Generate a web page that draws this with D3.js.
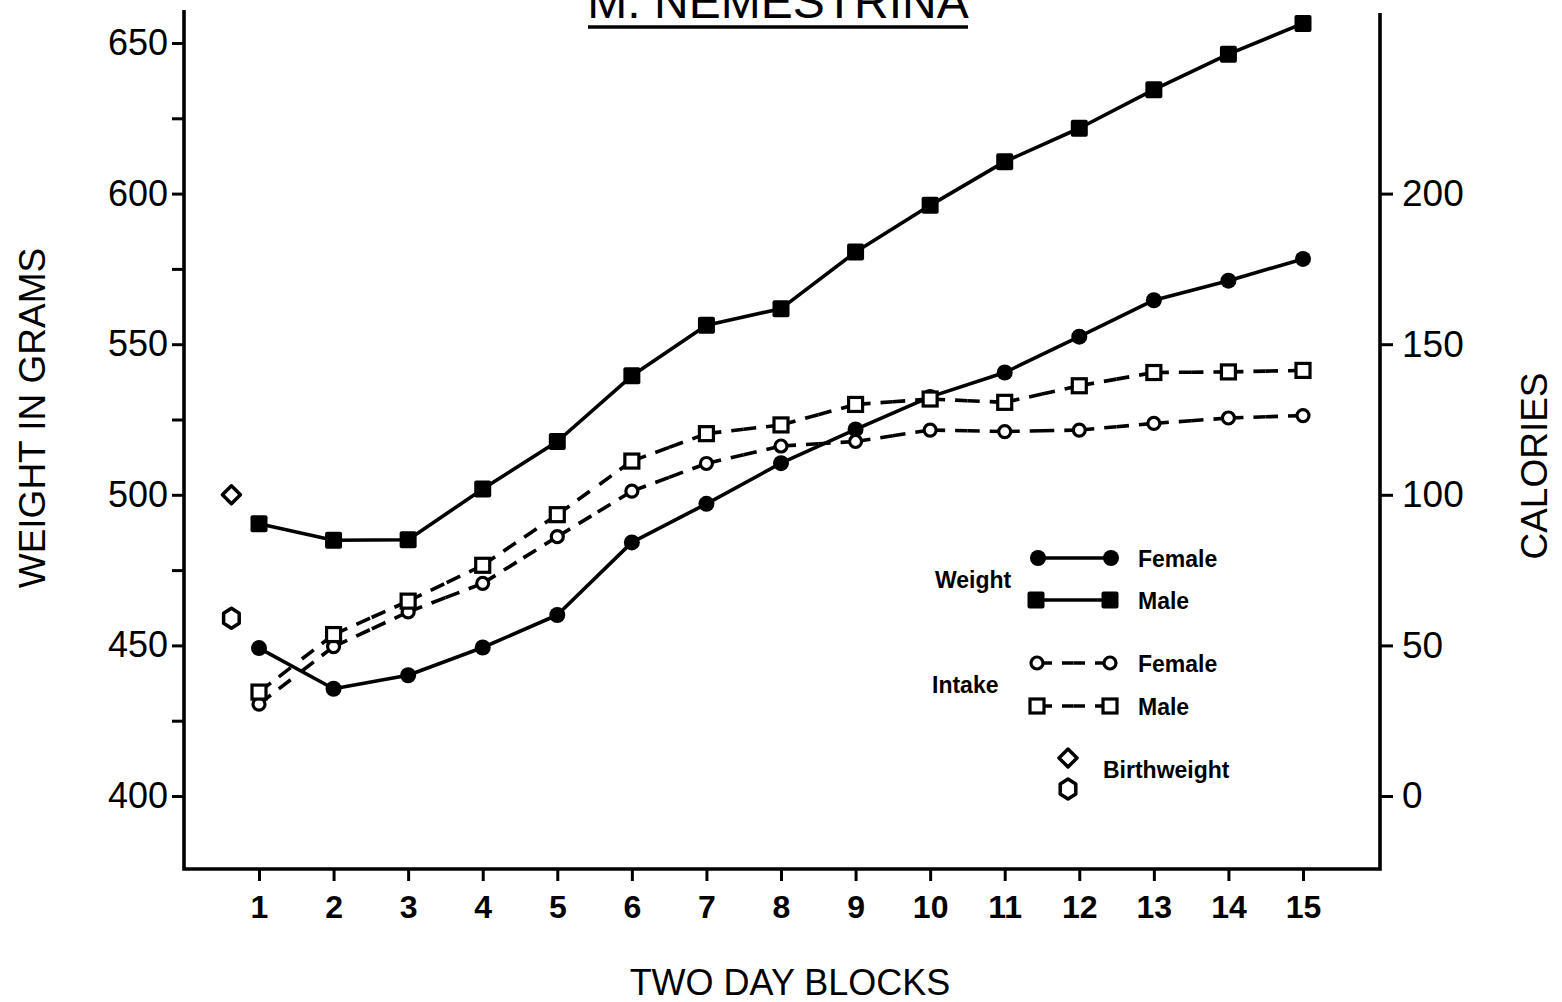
<!DOCTYPE html>
<html>
<head>
<meta charset="utf-8">
<script src="https://cdn.jsdelivr.net/npm/d3@7"></script>
<style>
  body { margin: 0; background: #fff; }
  svg { display: block; }
  text { font-family: "Liberation Sans", Arial, Helvetica, sans-serif; fill: #000; }
</style>
</head>
<body>
<svg id="chart" width="1562" height="1002"></svg>
<script>
// Two-day blocks on the x axis
const blocks = [1, 2, 3, 4, 5, 6, 7, 8, 9, 10, 11, 12, 13, 14, 15];

// Body weight (grams), left axis
const weightFemale = [449.1, 435.6, 440.1, 449.3, 460.1, 484.2, 497.0, 510.5, 521.7, 532.5, 540.6, 552.5, 564.6, 571.1, 578.3];
const weightMale   = [490.4, 484.9, 485.1, 501.9, 517.7, 539.5, 556.3, 561.8, 580.6, 596.1, 610.6, 621.7, 634.5, 646.3, 656.5];

// Caloric intake, right axis
const intakeFemale = [30.5, 49.6, 61.1, 70.6, 86.1, 101.2, 110.4, 116.2, 117.7, 121.5, 121.0, 121.5, 123.7, 125.5, 126.3];
const intakeMale   = [34.5, 53.6, 64.7, 76.6, 93.4, 111.2, 120.3, 123.2, 130.0, 131.8, 130.7, 136.2, 140.6, 140.8, 141.3];

// Birthweights, plotted just before block 1
const birthBlock = 0.63;
const birthweightMale = 500;
const birthweightFemale = 459;

// Tick labels
const weightTicks = [400, 450, 500, 550, 600, 650];
const weightMinorTicks = [425, 475, 525, 575, 625];
const calorieTicks = [0, 50, 100, 150, 200];

const svg = d3.select("#chart");
svg.append("rect").attr("width", 1562).attr("height", 1002).attr("fill", "#fff");

const frame = { left: 184, right: 1380, top: 10, bottom: 869 };

const x = d3.scaleLinear().domain([1, 15]).range([259, 1303]);
const yW = d3.scaleLinear().domain([400, 650]).range([796, 43]);
const yC = d3.scaleLinear().domain([0, 250]).range([796, 43]);

const ink = "#000";
const SW = 3.6;

// Frame lines
svg.append("path")
  .attr("d", `M${frame.left},${frame.top} L${frame.left},${frame.bottom} L${frame.right},${frame.bottom} L${frame.right},${frame.top + 3}`)
  .attr("fill", "none").attr("stroke", ink).attr("stroke-width", SW);

// Left axis (weight)
const gL = svg.append("g").attr("transform", `translate(${frame.left},0)`)
  .call(d3.axisLeft(yW).tickValues(weightTicks).tickSize(12).tickPadding(4).tickFormat(d3.format("d")));
gL.append("g").call(d3.axisLeft(yW).tickValues(weightMinorTicks).tickSize(12).tickFormat(""));
// Right axis (calories)
const gR = svg.append("g").attr("transform", `translate(${frame.right},0)`)
  .call(d3.axisRight(yC).tickValues(calorieTicks).tickSize(13).tickPadding(9).tickFormat(d3.format("d")));
// Bottom axis (blocks)
const gB = svg.append("g").attr("transform", `translate(0,${frame.bottom})`)
  .call(d3.axisBottom(x).tickValues(blocks).tickSize(12).tickPadding(14).tickFormat(d3.format("d")));

svg.selectAll(".domain").remove();
svg.selectAll(".tick line").attr("stroke", ink).attr("stroke-width", 3);
gL.selectAll("text").attr("font-size", 36).attr("fill", ink);
gR.selectAll("text").attr("font-size", 37).attr("fill", ink);
gB.selectAll("text").attr("font-size", 32).attr("font-weight", "bold").attr("fill", ink);
svg.selectAll(".tick text").style("font-family", '"Liberation Sans", Arial, sans-serif');

// Title with underline
svg.append("text").attr("x", 778).attr("y", 18).attr("text-anchor", "middle")
  .attr("font-size", 48).text("M. NEMESTRINA");
svg.append("line").attr("x1", 588).attr("x2", 968).attr("y1", 27).attr("y2", 27)
  .attr("stroke", ink).attr("stroke-width", 3.5);

// Axis titles
svg.append("text").attr("transform", "translate(45,418) rotate(-90)")
  .attr("text-anchor", "middle").attr("font-size", 37).text("WEIGHT IN GRAMS");
svg.append("text").attr("transform", "translate(1547,466) rotate(-90)")
  .attr("text-anchor", "middle").attr("font-size", 37).text("CALORIES");
svg.append("text").attr("x", 790).attr("y", 995)
  .attr("text-anchor", "middle").attr("font-size", 36).text("TWO DAY BLOCKS");

// Marker helpers
function filledCircle(g, cx, cy) {
  g.append("circle").attr("cx", cx).attr("cy", cy).attr("r", 8).attr("fill", ink);
}
function filledSquare(g, cx, cy) {
  g.append("rect").attr("x", cx - 8.5).attr("y", cy - 8.5).attr("width", 17).attr("height", 17)
    .attr("rx", 2).attr("fill", ink);
}
function openCircle(g, cx, cy) {
  g.append("circle").attr("cx", cx).attr("cy", cy).attr("r", 6)
    .attr("fill", "#fff").attr("stroke", ink).attr("stroke-width", 3.2);
}
function openSquare(g, cx, cy) {
  g.append("rect").attr("x", cx - 7).attr("y", cy - 7).attr("width", 14).attr("height", 14)
    .attr("fill", "#fff").attr("stroke", ink).attr("stroke-width", 3.2);
}
// Dashed connector drawn from both ends toward the middle so every marker gets a stub
function dashedSegment(g, x1, y1, x2, y2) {
  const mx = (x1 + x2) / 2, my = (y1 + y2) / 2;
  [[x1, y1], [x2, y2]].forEach(([sx, sy]) => {
    g.append("line").attr("x1", sx).attr("y1", sy).attr("x2", mx).attr("y2", my)
      .attr("stroke", ink).attr("stroke-width", SW).attr("stroke-dasharray", "15,10");
  });
}

const plot = svg.append("g");

// Solid weight lines
const weightLine = d3.line().x((d, i) => x(blocks[i])).y(d => yW(d));
[weightFemale, weightMale].forEach(series => {
  plot.append("path").datum(series).attr("d", weightLine)
    .attr("fill", "none").attr("stroke", ink).attr("stroke-width", SW).attr("stroke-linejoin", "round");
});

// Dashed intake lines
[intakeFemale, intakeMale].forEach(series => {
  for (let i = 0; i < series.length - 1; i++) {
    dashedSegment(plot, x(blocks[i]), yC(series[i]), x(blocks[i + 1]), yC(series[i + 1]));
  }
});

// Markers
weightFemale.forEach((v, i) => filledCircle(plot, x(blocks[i]), yW(v)));
weightMale.forEach((v, i) => filledSquare(plot, x(blocks[i]), yW(v)));
intakeFemale.forEach((v, i) => openCircle(plot, x(blocks[i]), yC(v)));
intakeMale.forEach((v, i) => openSquare(plot, x(blocks[i]), yC(v)));

// Birthweight symbols
function diamond(g, cx, cy) {
  g.append("path").attr("d", `M${cx},${cy - 9} L${cx + 9},${cy} L${cx},${cy + 9} L${cx - 9},${cy} Z`)
    .attr("fill", "#fff").attr("stroke", ink).attr("stroke-width", 3.5).attr("stroke-linejoin", "round");
}
function hexagon(g, cx, cy) {
  const r = 10;
  const pts = d3.range(6).map(k => {
    const a = Math.PI / 2 + k * Math.PI / 3;
    return [cx + r * Math.cos(a) * 0.9, cy + r * Math.sin(a)];
  });
  g.append("path").attr("d", "M" + pts.map(p => p.join(",")).join("L") + "Z")
    .attr("fill", "#fff").attr("stroke", ink).attr("stroke-width", 3.5).attr("stroke-linejoin", "round");
}
diamond(plot, x(birthBlock), yW(birthweightMale));
hexagon(plot, x(birthBlock), yW(birthweightFemale));

// Legend
const lg = svg.append("g");
const legFont = 23;
lg.append("line").attr("x1", 1038).attr("x2", 1111).attr("y1", 558).attr("y2", 558).attr("stroke", ink).attr("stroke-width", SW);
filledCircle(lg, 1038, 558); filledCircle(lg, 1111, 558);
lg.append("line").attr("x1", 1036).attr("x2", 1110).attr("y1", 600).attr("y2", 600).attr("stroke", ink).attr("stroke-width", SW);
filledSquare(lg, 1036, 600); filledSquare(lg, 1110, 600);
dashedSegment(lg, 1037, 663, 1110, 663);
openCircle(lg, 1037, 663); openCircle(lg, 1110, 663);
dashedSegment(lg, 1037, 706, 1110, 706);
openSquare(lg, 1037, 706); openSquare(lg, 1110, 706);
diamond(lg, 1068, 758);
hexagon(lg, 1068, 789);

[["Female", 1138, 567], ["Male", 1138, 609], ["Weight", 935, 588],
 ["Female", 1138, 672], ["Male", 1138, 715], ["Intake", 932, 693],
 ["Birthweight", 1103, 778]].forEach(([t, tx, ty]) => {
  lg.append("text").attr("x", tx).attr("y", ty).attr("font-size", legFont)
    .attr("font-weight", "bold").text(t);
});
</script>
</body>
</html>
